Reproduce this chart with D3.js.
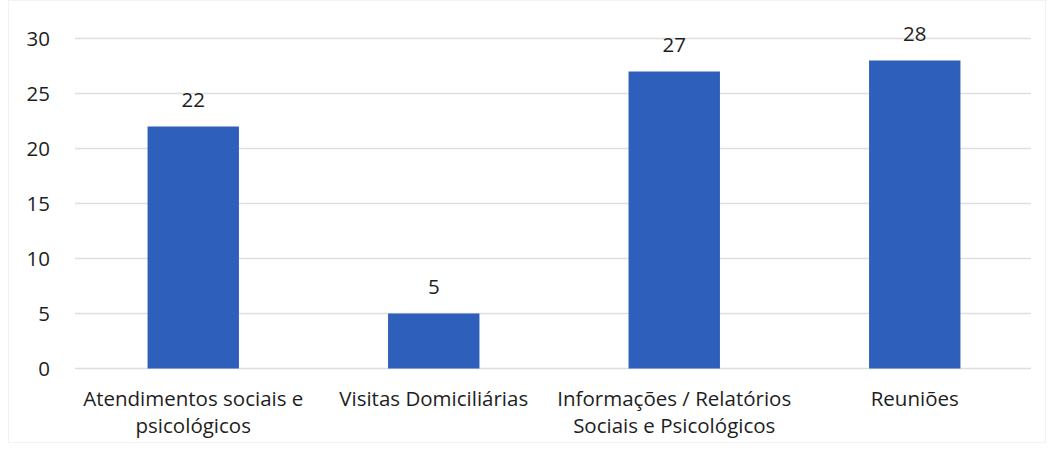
<!DOCTYPE html>
<html>
<head>
<meta charset="utf-8">
<script src="https://cdn.jsdelivr.net/npm/d3@7"></script>
<style>
  body { margin: 0; background: #fff; }
  text { font-family: "Open Sans", "Noto Sans", sans-serif; fill: #1e1e1e; }
</style>
</head>
<body>
<div id="chart"></div>
<script>
const categories = [
    ["Atendimentos sociais e", "psicológicos"],
    ["Visitas Domiciliárias"],
    ["Informações / Relatórios", "Sociais e Psicológicos"],
    ["Reuniões"]
];
const values = [22, 5, 27, 28];
const yTicks = [0, 5, 10, 15, 20, 25, 30];

const width = 1054, height = 450;
const margin = {top: 38.5, right: 19, bottom: 81.5, left: 73};

const svg = d3.select("#chart").append("svg")
    .attr("width", width).attr("height", height);

// faint outer border, like the scanned chart frame
svg.append("rect")
    .attr("x", 8.5).attr("y", 0.5)
    .attr("width", width - 17).attr("height", height - 8)
    .attr("fill", "none").attr("stroke", "#f2f2f2");

const x = d3.scaleBand()
    .domain(d3.range(values.length))
    .range([margin.left, width - margin.right])
    .paddingInner(0.62).paddingOuter(0.31);

const y = d3.scaleLinear()
    .domain([0, 30])
    .range([height - margin.bottom, margin.top]);

// gridlines
svg.append("g")
    .selectAll("line")
    .data(yTicks)
    .join("line")
    .attr("x1", margin.left + 2).attr("x2", width - margin.right - 4)
    .attr("y1", d => y(d)).attr("y2", d => y(d))
    .attr("stroke", "#dedede").attr("stroke-width", 1.5);

// y axis labels
const yAxis = d3.axisLeft(y).tickValues(yTicks).tickSize(0).tickPadding(0);
const ya = svg.append("g").attr("transform", `translate(${50},0)`).call(yAxis);
ya.select(".domain").remove();
ya.selectAll("text").style("font-size", "20.5px").attr("dy", "0.35em").attr("fill", "#1e1e1e");

// bars
svg.append("g")
    .selectAll("rect")
    .data(values)
    .join("rect")
    .attr("x", (d, i) => x(i))
    .attr("y", d => y(d))
    .attr("width", x.bandwidth())
    .attr("height", d => y(0) - y(d))
    .attr("fill", "#2e5fba");

// value labels
svg.append("g")
    .selectAll("text")
    .data(values)
    .join("text")
    .attr("x", (d, i) => x(i) + x.bandwidth() / 2)
    .attr("y", d => y(d) - 20)
    .attr("text-anchor", "middle")
    .style("font-size", "20.5px")
    .text(d => d);

// category labels
const cat = svg.append("g")
    .selectAll("text")
    .data(categories)
    .join("text")
    .attr("x", (d, i) => x(i) + x.bandwidth() / 2)
    .attr("y", 406)
    .attr("text-anchor", "middle")
    .style("font-size", "20.5px");

cat.selectAll("tspan")
    .data(d => d)
    .join("tspan")
    .attr("x", function() { return d3.select(this.parentNode).attr("x"); })
    .attr("dy", (d, i) => i === 0 ? 0 : 27)
    .text(d => d);
</script>
</body>
</html>
